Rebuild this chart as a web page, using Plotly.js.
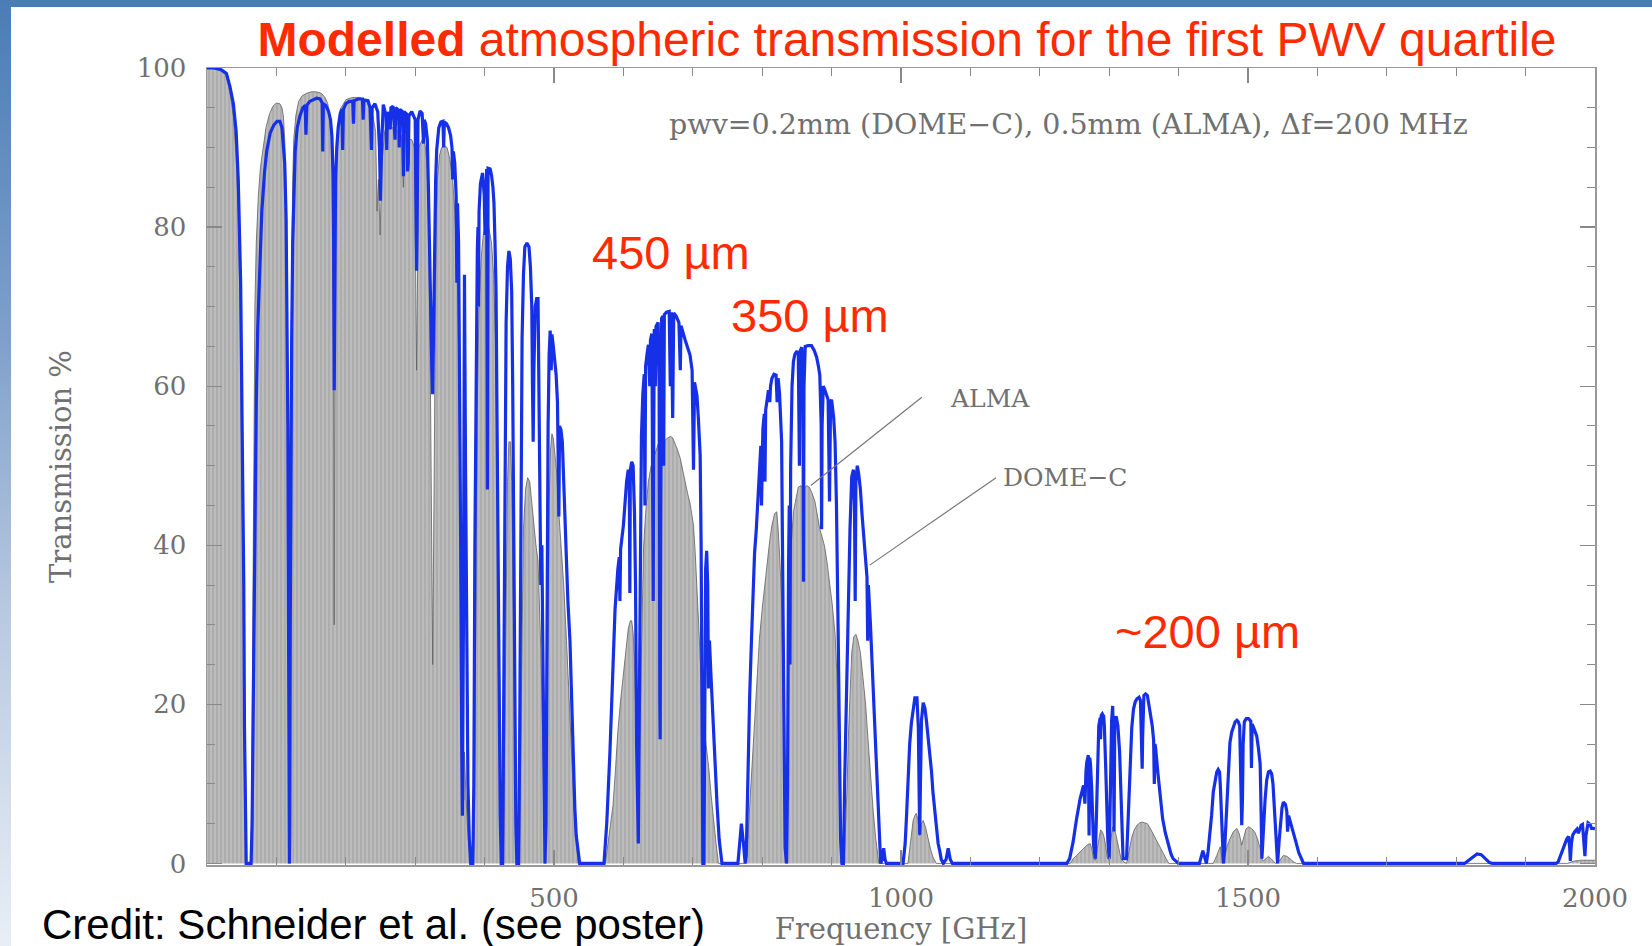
<!DOCTYPE html>
<html>
<head>
<meta charset="utf-8">
<script src="https://cdn.plot.ly/plotly-3.0.1.min.js"></script>
<style>
  html, body { margin:0; padding:0; background:#ffffff; }
  #wrap { position:relative; width:1652px; height:946px; overflow:hidden; background:#ffffff; }
  #topband { position:absolute; left:0; top:0; width:1652px; height:7px; background:#4a7db5; }
  #leftband { position:absolute; left:0; top:0; width:11px; height:946px;
     background:linear-gradient(to bottom, #4a7db5 0%, #7d9fcb 35%, #b9c9e0 65%, #e9eef6 100%); }
  #chart { position:absolute; left:0; top:0; width:1652px; height:946px; }
</style>
</head>
<body>
<div id="wrap">
  <div id="topband"></div>
  <div id="leftband"></div>
  <div id="chart"></div>
</div>
<script>
// Frequency [GHz], transmission [%]
// DOME-C, pwv = 0.2 mm (blue curve)
const domeC = [
 [0,100],[10,100],[20,99.8],[28,99.3],[33,97.7],[38,95.5],[42,92],[45,86],[48.5,73],[51.4,52],[53,35],[54,17],[55.5,3],[56.5,0],
 [63.5,0],[65,5],[67,23],[69,45],[71,58],[73,67],[76,76],[79,82],[83,87],[86,89.5],[91,91.8],[96,92.8],[101,93.3],[105,93.3],[108,92.5],[110,90.5],[112,88],[114,81],[115.5,70],[116.5,55],[117.5,30],[118.3,5],[118.75,0],[119.3,5],
 [120,30],[121,55],[122,66],[123.5,78],[125,85],[127,89.5],[130,92.5],[134,94],[138,95],[141.5,95.3],[142.6,91.6],[143.8,95.3],[148,95.8],[153,96],[158,96.2],[163,96.1],[166,95.6],[166.8,89.5],[167.6,95.5],[171,95.3],[175,94.6],[178,93.5],[180,91.4],[181.5,87],[182.5,78],[183.3,59.5],[184.2,78],[185.3,86],[187,90],[189,92.5],[192,94.3],[194.5,94.8],[195.5,89.7],[196.5,94.8],
 [200,95.5],[205,95.8],[210,95.8],[211,93],[212,95.9],[218,96.1],[224,96.1],[225,93.5],[226,96],[232,95.9],[235,95],[236,92.3],[237,89.7],[238,95],[242,95.5],[246,94.5],[248.5,90],[250,83.3],[251.5,90],[254,95.4],[258,94],[259,89.7],[260,94.5],[264,92.3],[265,95],[268,95.2],[271,91],[272,95],[276,94.7],[277,90],[278,94.8],[282,94.5],[283,86.4],[284,94.5],[288,94.2],[289,87],[290,88],[291,94],[295,94.5],[300,93.5],[301.5,80],[302,74.5],[302.7,80],[304,93.5],[307,94.6],[310,94.3],[312,90.5],[313,93.5],[315,93],[317.5,91],[319,85],[320.5,77],[322,70],[324,62],[325.2,59],[326.5,70],[328,80],[329.5,86],[331,89.7],[334,92.5],[337,93.2],[340,93.3],[341,90],[342,93.2],[345,93],[348,92.5],[351,91.5],[353,90],[354,86],[355,89.5],[357,88],[359,84],[360,73],[361,83],[362.5,78],[364,62],[365.5,40],[367,15],[368,6],[369.5,30],[371,74],[372.5,50],[374,25],[376,10],[378,3],[380,0],
 [383,0],[384.5,10],[386,40],[388,65],[389.5,77],[390.5,80],[391.2,70],[392,82],[394,85.5],[397,86.8],[399.5,84],[400.6,79],[401.6,85],[403,87.3],[404,47],[405,87.4],[408,87.3],[410,86.5],[412,85],[413.5,83],[415,78],[416.5,72],[418,55],[419.5,34],[421,18],[422.5,6],[424,0],
 [426,0],[427.5,20],[429,50],[431,68],[433,75],[435,77],[437,76],[439,72],[440.5,60],[442,40],[443.5,20],[445,5],[446.5,0],
 [449,0],[450.5,15],[452,45],[454,66],[456,74],[458,77.5],[461,78],[464,77.5],[466,75],[468,70],[469,60],[470,53],[471,62],[473,70],[475,71],[477,71],[478,62],[479.5,45],[481,35],[482.5,40],[484,28],[485.5,10],[487,0],
 [488.5,5],[490,35],[491.5,55],[493,64],[494.5,67],[496,62],[497,66.5],[499,65],[501,63],[503,61.5],[505,58],[506,50],[507,43.6],[508,55],[510,54.5],[512,53],[514,48],[516,42],[518,37],[520,33],[523,28],[525.5,20],[528,12.8],[530,7],[532,3.5],[535,1],[537,0],
 [572,0],[576,5],[580.6,14],[585,25.8],[588,32],[592,37],[594,38.5],[595,33],[596,39.5],[600,42.5],[602,45],[604.6,48],[607,49.5],[608.5,48],[609.3,34],[610,49.5],[612,50.5],[614,50],[616,44],[617.5,35],[619,15],[620.5,2.5],[621.5,2.5],[622.5,15],[624,35],[626,53.7],[628,59],[630,61.5],[631,45],[632,62.5],[634,64],[636,65.2],[638,60],[639,65.8],[641,66.6],[642.5,50],[643,33],[643.5,50],[644.5,67.2],[646,60],[647,67.5],[650,68],[651.5,60],[652.5,20],[653,15.6],[653.7,40],[655,68.5],[657,68.8],[658,50],[659,69],[662,69.3],[666,69.4],[667.6,60],[669,69.3],[671,56],[672.5,69.2],[676,68.8],[680,68],[682,62],[683,67.6],[686,66.5],[689,65.8],[692,65],[696,63.9],[699,62],[701,49.5],[702.5,60.5],[704,59.5],[706,58.8],[708,56],[710.6,51.3],[712,40],[713.5,15],[714.5,0],[716,0],[717,20],[718.5,37],[720,39.3],[721.5,35],[722.6,22],[724,28],[726,24],[728,20],[730,16.6],[733,10],[735,7.3],[738,3],[742,0],
 [765,0],[767,2.5],[770,5],[773,2.5],[775.5,0],
 [777,1],[778,6],[780,14],[782,21.2],[784.5,28],[786.7,35],[789,39],[791.5,42],[794,46],[796,50],[798,52.5],[799,45],[800,53],[801,54.6],[803,56.5],[804,48],[805,57],[806,57.8],[809,59.5],[811,58],[812,60],[814,61],[817,61.5],[820,61.4],[821.5,58],[823,61],[825,59],[827,55],[828,53],[829,42],[830,28.8],[831.5,12],[833,2],[835,0],
 [836.5,10],[838,37.6],[839,45],[840,25],[841,50],[843,60],[845,63.1],[847,64],[850,64.4],[852,64],[853.6,50],[855,64.5],[857,64.9],[858.8,60],[859.5,35.4],[860.2,60],[862,65],[866,65.1],[871,65.1],[875,64.5],[878.5,63.6],[881,62.5],[883,61.4],[885,55],[885.6,42],[886.3,55],[888,60],[890,59.6],[893,58.8],[895,58.3],[897,45.5],[898.5,58],[900,58.3],[903,56],[905,53],[907,45],[909.5,28.8],[911,15],[913,3],[915,0],
 [917,0],[919,11],[921.5,22],[924,33.2],[926.5,42],[929,48.6],[931.5,49.5],[933,45],[934,33],[935,48],[937,50],[939,49],[941.5,47],[944,43.7],[946.5,41],[949,38.4],[951,36],[952,28],[953,35],[956,30],[958.6,24.3],[961,20],[963.5,15.5],[966,9],[968.3,4.5],[970.7,0],[973,0.5],[975,1.9],[977,0.5],[979,0],
 [1003,0],[1006,2.5],[1008,6],[1010,11.1],[1012.5,15],[1015,17.7],[1017.5,19.5],[1020,20.8],[1023,20.8],[1025,17],[1026,10],[1027,3.6],[1028,10],[1029.5,18],[1032,20.2],[1034.5,19.5],[1036.6,18],[1039,16],[1041.5,14.2],[1044,11.5],[1046,9],[1049,6.5],[1051,4.5],[1053.5,2.5],[1056,1.5],[1058,0.5],[1061,0],[1065,0.5],[1068,1.9],[1071,0.5],[1074,0],
 [1239,0],[1243,0.6],[1248,2.7],[1253,5.6],[1258,8.1],[1263,9.8],[1265,7.5],[1266.5,11.5],[1267.6,12.7],[1270,13.6],[1271,3.5],[1272,13.3],[1273,12.5],[1275,9],[1277.5,2.3],[1280,0.6],
 [1282.5,9],[1285,17.3],[1287,18.3],[1287.6,15.6],[1288.5,18.6],[1290,18.8],[1292,18.5],[1293,17.3],[1295,12],[1296,9],[1298,3],[1300,0.6],
 [1302,13.1],[1303.5,18],[1305,19.8],[1306,16],[1307,4],[1308,17.7],[1310,18.5],[1312.5,17.3],[1315,14],[1316.5,11],[1318,6],[1320,0.6],
 [1325,0.6],[1327.5,6],[1330,13.1],[1332.5,17],[1335,19.4],[1337.5,20.3],[1340,20.7],[1343,20.9],[1345,20.5],[1347,15],[1347.5,11.9],[1348.2,16],[1350,21.1],[1352.5,21.3],[1355,21.1],[1358,19.5],[1362,17.3],[1364,15.5],[1365,10],[1366,15],[1367,14.4],[1370,11.5],[1372,9.8],[1374.5,7.5],[1377,5.6],[1381,3.8],[1385,2.3],[1389,1.2],[1392,0.6],[1400,0],
 [1430,0],[1433,0.8],[1435,1.6],[1437.5,0.8],[1440,0],[1442.5,1.5],[1445,3.5],[1447.5,6],[1450,9],[1452.5,10.5],[1455,11.5],[1457,11.8],[1459,11.5],[1460,10],[1461,8],[1462,5.2],[1463.5,1.5],[1464.6,0],
 [1466.5,2],[1469.5,6.9],[1472,11],[1474,15.2],[1476.5,16.5],[1479,17.3],[1481.5,17.8],[1484,18],[1486,17.8],[1488,17.3],[1489,12],[1490,8],[1491,4.8],[1492,8],[1493,15],[1494.7,17.8],[1497.5,18.2],[1500.7,18.2],[1504,17.9],[1505,12],[1506,17.5],[1508,17.1],[1510,16.5],[1512.6,16],[1515,14.5],[1517.5,12.5],[1519,6],[1520,0.6],
 [1521.5,3],[1523,6],[1524.6,8],[1527,10.5],[1529.5,11.5],[1532,11.6],[1534,11.3],[1536,10],[1538,7],[1540,3],[1542.6,0],
 [1545,3],[1546.5,5],[1549,7],[1551,7.7],[1554,7.4],[1556,6.5],[1557,4],[1558.5,6],[1562,5],[1565.6,3.9],[1569,2.7],[1573,1.4],[1577,0.5],[1580,0],
 [1812,0],[1818,0.4],[1824,0.9],[1830,1.2],[1836,1.1],[1842,0.6],[1848,0.1],[1852,0],
 [1944,0],[1947,0.2],[1950,1],[1953,1.8],[1956,2.3],[1959,3],[1962,3.4],[1963.5,2],[1964.5,0.3],[1966,2.5],[1968,3.6],[1971,4],[1974,4.3],[1976,3.8],[1978,4.4],[1980,4.8],[1982,4.9],[1984,3],[1985.5,0.9],[1987,3.5],[1990,5.1],[1993,4.9],[1995,4.4],[1998,4.4],[2000,4.3]
];

// ALMA, pwv = 0.5 mm (grey filled curve)
const alma = [
 [0,100],[10,100],[20,99.7],[28,99],[33,97],[38,94],[42,89],[45,82],[48,68],[50.5,50],[52.5,30],[54,12],[55,2],[55.8,0],
 [63,0],[64.5,8],[66,30],[67.5,55],[69,70],[71,78],[74,84],[77,87.5],[80,89.5],[85,92.5],[90,94.2],[95,95.2],[100,95.6],[105,95.5],[108,95],[110,94],[112,91],[114,84],[115.5,72],[116.5,55],[117.5,28],[118.3,4],[118.75,0],[119.3,4],
 [120,30],[121,60],[122,75],[123.5,86],[125,91],[128,94],[132,95.8],[137,96.5],[143,96.8],[150,97],[158,97],[165,96.8],[170,96.3],[174,95.5],[177,94],[179.5,91],[181,85],[182.3,65],[183.3,30],[184.3,65],[185.5,85],[187,90],[189,93],[192,94.8],[196,95.5],
 [200,96],[205,96.2],[212,96.3],[220,96.3],[228,96],[235,95],[237,90],[239,94],[243,92],[245,82],[247,86],[249.5,79],[252,88],[256,92],[260,93],[265,92.5],[270,92.5],[275,92],[280,91.5],[283,85],[285,91.3],[290,91],[295,91],[299,90],[301,70],[302,62],[303,70],[305,90],[310,91],[314,90.5],[317,88],[319.5,80],[321.5,65],[323.5,45],[325.2,25],[327,45],[328.5,68],[330,80],[332,86],[335,89],[338,90],[342,90.3],[346,90],[350,88.5],[354,86],[357,82],[360,76],[362,68],[364,55],[366,35],[368,15],[370,8],[371,14],[372.5,10],[375,5],[378,1.5],[380,0],
 [384,0],[385.5,8],[387.5,35],[389.5,58],[392,70],[395,76],[398,79],[402,80.5],[406,80],[410,78],[413,74],[416,65],[418.5,48],[421,25],[423,8],[424.5,0],
 [427,0],[428.5,12],[430.5,35],[433,48],[435,53],[437,53],[439,48],[441,35],[443,18],[445,4],[446.5,0],
 [450,0],[451.5,10],[453.5,30],[456,42],[459,47],[462,48.5],[465,48],[468,45],[471,42],[474,40],[477,38],[479,33],[481,27],[483,19],[485,8],[487,0],
 [489,8],[491,30],[493,45],[495,52],[497,54],[499,53.5],[501,52],[504,49],[507,44],[510,40],[514,35],[518,28],[521,22],[524,16],[527,10],[530,5],[533,2],[535,0],
 [574,0],[578,2.6],[581,4.5],[585,7.3],[588,11],[592,16.6],[596,20.5],[600,23.5],[604,27],[607,29.5],[610,30.5],[612,30.5],[614,29],[616,25.8],[618,18],[620,7.3],[621,5],[622,8],[624,16.6],[626.5,28],[629,39.7],[632,44],[636,48],[640,50],[643,50.9],[646,51.8],[650,52.7],[655,53],[660,53.2],[664,53.5],[668,53.7],[671,53.5],[674.6,52.8],[678,52],[682,50.9],[685.5,49.3],[689,47.6],[692.5,46.5],[696,45.3],[698.5,44],[701,42.5],[703.5,39],[706,35],[708.5,30],[710.6,25.8],[713,22],[715,18.9],[719,15],[723,12],[726.5,8.5],[730,5],[733.5,2.5],[737,0],
 [777,0],[779.5,3.5],[782,7.3],[785.5,13],[789,18.9],[792.5,23.5],[796,28.2],[800,32],[803.6,35],[807,38],[811,40.7],[814,42.5],[818,44],[821,44.2],[823,42],[825.5,38],[828,33.2],[830,22],[832,8],[834,0.5],[835.5,0],
 [837,12],[838.5,33],[841,39],[845,44.2],[848.5,46],[852,47.3],[856,47.5],[859.5,47],[864,47.5],[868,47.3],[872,46.5],[876,45.5],[880,43.5],[883,42],[886.5,41],[890,39.8],[893.5,37.8],[897,35.4],[901,32.5],[905,28.8],[907.5,24],[909.5,17.7],[911.5,8],[913,0],
 [918,0],[920.5,5],[922.5,10],[924,15.5],[926.5,21.5],[929,26.5],[932,28.5],[935,28.8],[938,28],[941.5,26.5],[945,23.5],[949,20],[952.5,15.5],[956,11.1],[960,6.5],[963.5,3.2],[966,1.5],[968,0],
 [1010,0],[1013,2.3],[1015,4],[1017.5,5.4],[1020,6],[1022,6.3],[1024.5,5.5],[1027,3.5],[1029.5,5],[1032,5.4],[1035.5,4.5],[1039,3],[1042.5,1.8],[1046,0.8],[1049,0.3],[1051,0],
 [1244,0],[1248,0.6],[1253,1],[1258,1.4],[1263,1.9],[1268,2.3],[1272.6,2.5],[1275,1.8],[1277.5,0.6],[1280,0.4],[1282.5,1.7],[1285,3.2],[1287.5,4.2],[1290,4],[1292,3.5],[1294.5,2.5],[1297,0.8],[1300,0.4],[1302,2.7],[1305,4.6],[1307.5,4.3],[1310,3.5],[1313.5,2.2],[1317,0.6],[1321,0.2],[1325,0],[1328.5,1.5],[1332,3.1],[1336,4.2],[1340,4.8],[1344,5.1],[1347.5,5.2],[1351,5.1],[1355,5],[1358.5,4.5],[1362,3.9],[1367,3.1],[1372,2.3],[1377,1.4],[1382,0.6],[1386,0],
 [1450,0],[1455,1],[1458,1.8],[1460,2.1],[1462,1],[1464,0],[1467,1],[1470,2.2],[1474,3.1],[1479,4],[1484,4.4],[1487.5,3.7],[1491,2.3],[1494,3.5],[1497,4.3],[1500.7,4.6],[1505,4.4],[1510,3.9],[1514,3],[1517.5,1.9],[1520,0.6],[1522,0.3],[1526,0.6],[1529.5,0.9],[1533,0.6],[1537,0.2],[1540,0],[1545,0.3],[1551,1],[1556,0.9],[1560,0.6],[1565.6,0.2],[1570,0],
 [1960,0],[1970,0.3],[1980,0.4],[1990,0.4],[2000,0.4]
];

const xTickVals = [0, 500, 1000, 1500, 2000];
const xTickText = ['', '500', '1000', '1500', '2000'];
const yTickVals = [0, 20, 40, 60, 80, 100];
const yTickText = ['0', '20', '40', '60', '80', '100'];

const bandLabels = [
  {text: '450 µm', f: 668, t: 76.8},
  {text: '350 µm', f: 869, t: 68.9},
  {text: '~200 µm', f: 1441, t: 29.2}
];

const serif = 'DejaVu Serif, Liberation Serif, serif';
const sans = 'Liberation Sans, Arial, sans-serif';
const grey = '#707070';

const traces = [
  {
    x: alma.map(p => p[0]), y: alma.map(p => p[1]),
    type: 'scatter', mode: 'lines', name: 'ALMA',
    fill: 'tozeroy',
    fillcolor: '#b6b6b6',
    fillpattern: {shape: '|', size: 4, solidity: 0.25, fgcolor: '#9e9e9e', bgcolor: '#bcbcbc'},
    line: {color: '#606060', width: 0.8},
    hoverinfo: 'skip'
  },
  {
    x: domeC.map(p => p[0]), y: domeC.map(p => p[1]),
    type: 'scatter', mode: 'lines', name: 'DOME-C',
    line: {color: '#1530e6', width: 3.2},
    hoverinfo: 'skip'
  }
];

const L = 207, R = 57, T = 68, B = 81;
const plotW = 1652 - L - R, plotH = 946 - T - B;

const annotations = [
  {x: (667 - L) / plotW, xref: 'paper', y: (865 - 124) / plotH, yref: 'paper', xanchor: 'left', yanchor: 'middle',
   text: 'pwv=0.2mm (DOME\u2212C), 0.5mm (ALMA), \u0394f=200 MHz', showarrow: false,
   font: {family: serif, size: 28.5, color: grey}},
  {x: 1068, y: 58.4, xanchor: 'left', yanchor: 'middle', text: 'ALMA', showarrow: false,
   font: {family: serif, size: 25, color: grey}},
  {x: 1144, y: 48.5, xanchor: 'left', yanchor: 'middle', text: 'DOME\u2212C', showarrow: false,
   font: {family: serif, size: 25, color: grey}},
  {x: (40 - L) / plotW, xref: 'paper', y: (865 - 924) / plotH, yref: 'paper', xanchor: 'left', yanchor: 'middle',
   text: 'Credit: Schneider et al. (see poster)', showarrow: false,
   font: {family: sans, size: 42, color: '#000000'}}
];
bandLabels.forEach(b => annotations.push({
  x: b.f, y: b.t, xanchor: 'center', yanchor: 'middle', text: b.text, showarrow: false,
  font: {family: sans, size: 47, color: '#ff2a00'}
}));

const shapes = [
  {type: 'line', x0: 1030, y0: 58.6, x1: 870, y1: 47.5, line: {color: '#777', width: 1.2}},
  {type: 'line', x0: 1137, y0: 48.5, x1: 955, y1: 37.5, line: {color: '#777', width: 1.2}}
];

const layout = {
  width: 1652, height: 946,
  margin: {l: L, r: R, t: T, b: B},
  paper_bgcolor: 'rgba(0,0,0,0)',
  plot_bgcolor: '#ffffff',
  showlegend: false,
  title: {
    text: '<b>Modelled</b> atmospheric transmission for the first PWV quartile',
    x: 907/1652, xref: 'container', xanchor: 'center',
    y: 1 - 39/946, yref: 'container', yanchor: 'middle',
    font: {family: sans, size: 48, color: '#ff2a00'}
  },
  xaxis: {
    range: [0, 2000],
    tickvals: xTickVals, ticktext: xTickText,
    ticks: 'inside', ticklen: 15, tickwidth: 1.2, tickcolor: '#888',
    minor: {dtick: 100, tick0: 0, ticks: 'inside', ticklen: 8, tickwidth: 1, tickcolor: '#888'},
    showline: true, linecolor: '#999', linewidth: 1.5, mirror: 'ticks',
    showgrid: false, zeroline: false,
    ticklabelstandoff: 9,
    tickfont: {family: serif, size: 26, color: grey},
    title: {text: 'Frequency [GHz]', standoff: 2, font: {family: serif, size: 29, color: grey}}
  },
  yaxis: {
    range: [-0.2, 100],
    tickvals: yTickVals, ticktext: yTickText,
    ticks: 'inside', ticklen: 15, tickwidth: 1.2, tickcolor: '#888',
    minor: {dtick: 5, tick0: 0, ticks: 'inside', ticklen: 8, tickwidth: 1, tickcolor: '#888'},
    showline: true, linecolor: '#999', linewidth: 1.5, mirror: 'ticks',
    showgrid: false, zeroline: false,
    ticklabelstandoff: 14,
    tickfont: {family: serif, size: 26, color: grey},
    title: {text: 'Transmission %', standoff: 56, font: {family: serif, size: 29, color: grey}}
  },
  annotations: annotations,
  shapes: shapes
};

Plotly.newPlot('chart', traces, layout, {displayModeBar: false, staticPlot: true});
</script>
</body>
</html>
